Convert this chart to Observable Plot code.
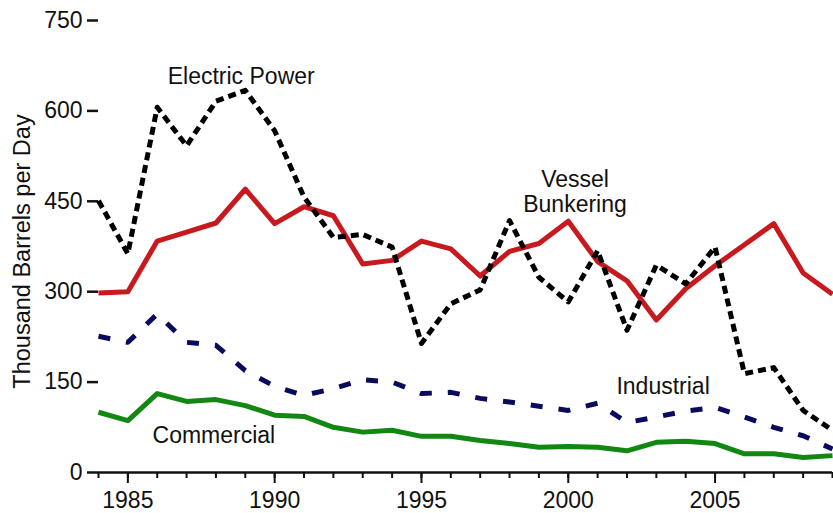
<!DOCTYPE html>
<html>
<head>
<meta charset="utf-8">
<script src="https://cdn.jsdelivr.net/npm/d3@7"></script>
<script src="https://cdn.jsdelivr.net/npm/@observablehq/plot@0.6"></script>
<style>
  html, body { margin: 0; padding: 0; background: #fff; }
  #chart svg { display: block; font-family: "Liberation Sans", Arial, Helvetica, sans-serif; }
</style>
</head>
<body>
<div id="chart"></div>
<script>
const years = d3.range(1984, 2010);
const vesselBunkering = [298, 300, 384, 399, 414, 470, 413, 441, 426, 346, 352, 384, 371, 326, 367, 380, 417, 350, 318, 253, 305, 343, 378, 413, 331, 296];
const electricPower   = [451, 363, 606, 542, 616, 634, 567, 457, 390, 395, 374, 214, 280, 303, 418, 324, 283, 368, 236, 344, 313, 374, 164, 174, 103, 70];
const industrial      = [226, 216, 263, 216, 211, 169, 143, 128, 139, 154, 150, 131, 133, 123, 117, 110, 103, 115, 83, 92, 102, 108, 92, 75, 61, 39];
const commercial      = [100, 86, 131, 118, 121, 111, 95, 93, 75, 67, 70, 60, 60, 53, 48, 42, 43, 42, 36, 50, 52, 48, 31, 31, 25, 28];
const yTicks = [0, 150, 300, 450, 600, 750];
const xMajorTicks = [1985, 1990, 1995, 2000, 2005];
const yLabel = "Thousand Barrels per Day";

const toRows = (vals) => years.map((year, i) => ({year, value: vals[i]}));

const font = 23;
const lineStyle = {x: "year", y: "value", strokeWidth: 5, strokeLinejoin: "round", strokeLinecap: "butt"};

const chart = Plot.plot({
  width: 833,
  height: 513,
  marginLeft: 98,
  marginRight: 1,
  marginTop: 20,
  marginBottom: 41,
  style: {background: "#fff", overflow: "visible", fontSize: "23px"},
  x: {domain: [1984, 2009]},
  y: {domain: [0, 750]},
  marks: [
    Plot.axisY({ticks: yTicks, tickSize: 11, text: null, label: null, strokeWidth: 2.5, stroke: "#111"}),
    Plot.text(yTicks, {y: d => d, frameAnchor: "left", textAnchor: "end", dx: -16, fontSize: font, fill: "#111"}),
    Plot.axisX({ticks: years, tickSize: 6, text: null, label: null, strokeWidth: 2, stroke: "#111"}),
    Plot.axisX({ticks: xMajorTicks, tickSize: 11, text: null, label: null, strokeWidth: 2, stroke: "#111"}),
    Plot.text(xMajorTicks, {x: d => d, frameAnchor: "bottom", lineAnchor: "top", dy: 19.5, fontSize: font, fill: "#111", text: d => String(d)}),
    Plot.ruleY([0], {stroke: "#111", strokeWidth: 2.5}),
    Plot.text([yLabel], {frameAnchor: "left", textAnchor: "middle", rotate: -90, dx: -76, dy: 5, fontSize: 23.5, fill: "#111"}),
    Plot.line(toRows(commercial), {...lineStyle, stroke: "#128712"}),
    Plot.line(toRows(industrial), {...lineStyle, stroke: "#0b0b5e", strokeDasharray: "12,16"}),
    Plot.line(toRows(vesselBunkering), {...lineStyle, stroke: "#c8191e"}),
    Plot.line(toRows(electricPower), {...lineStyle, stroke: "#000", strokeDasharray: "8,5"}),
    Plot.text(["Electric Power"], {x: 1988.86, y: 657, fontSize: font, fill: "#111"}),
    Plot.text(["Vessel\nBunkering"], {x: 2000.23, y: 466, fontSize: font, lineHeight: 1.07, fill: "#111"}),
    Plot.text(["Industrial"], {x: 2003.23, y: 143, fontSize: font, fill: "#111"}),
    Plot.text(["Commercial"], {x: 1987.93, y: 62, fontSize: font, fill: "#111"})
  ]
});
document.getElementById("chart").appendChild(chart);
</script>
</body>
</html>
